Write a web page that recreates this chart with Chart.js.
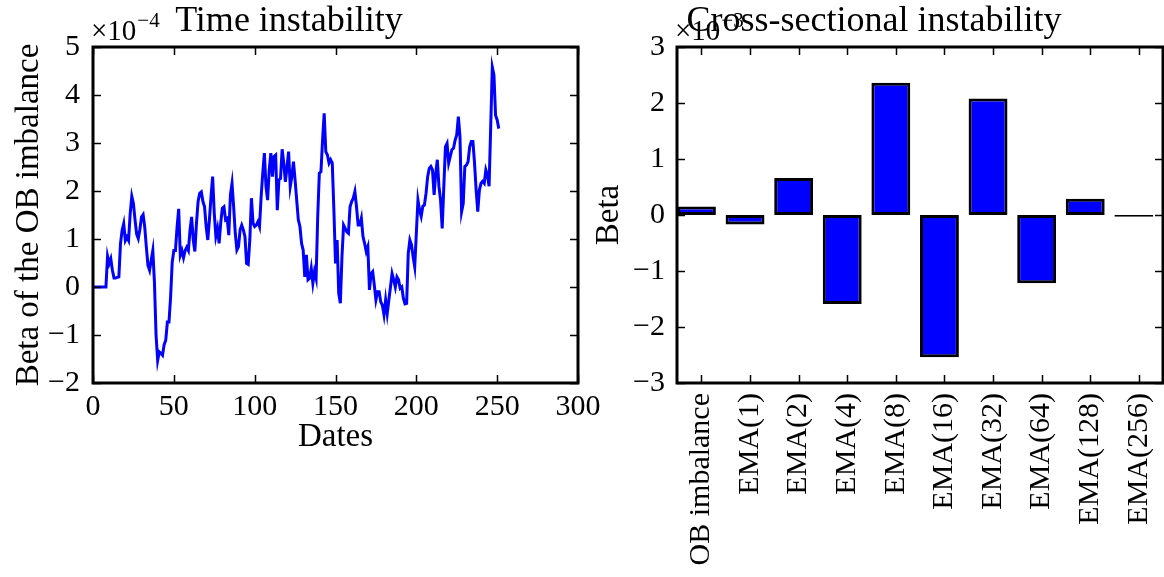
<!DOCTYPE html>
<html>
<head>
<meta charset="utf-8">
<script src="https://cdn.jsdelivr.net/npm/chart.js@4"></script>
<style>
  html, body { margin: 0; padding: 0; background: #fff; overflow: hidden; }
  #wrap { position: relative; width: 1164px; height: 577px; }
  #left { position: absolute; left: 0; top: 0; }
  #right { position: absolute; left: 585px; top: 0; }
</style>
</head>
<body>
<div id="wrap">
  <canvas id="left" width="600" height="577"></canvas>
  <canvas id="right" width="579" height="577"></canvas>
</div>
<script>
// === Data (left values in units of 1e-4, right in units of 1e-3) ===
const beta = [
  0, 0, 0, 0, 0, 0, 0, 0, 0, 0.64,
  0.49, 0.59, 0.35, 0.19, 0.19, 0.20, 0.21, 0.90, 1.18, 1.32,
  0.97, 1.04, 0.97, 1.53, 1.89, 1.74, 1.40, 1.10, 1.01, 1.20,
  1.46, 1.51, 1.25, 0.83, 0.45, 0.35, 0.56, 0.76, 0.10, -1.00,
  -1.53, -1.35, -1.38, -1.42, -1.20, -1.11, -0.73, -0.73, -0.21, 0.52,
  0.76, 0.76, 1.25, 1.63, 0.66, 0.76, 0.61, 0.76, 0.83, 0.76,
  1.18, 1.46, 0.98, 0.74, 1.33, 1.78, 1.95, 1.98, 1.78, 1.67,
  1.26, 0.98, 1.40, 1.88, 2.30, 1.54, 1.06, 1.22, 0.91, 1.33,
  1.64, 1.67, 1.40, 1.43, 1.08, 1.92, 2.16, 1.67, 1.12, 0.77,
  0.84, 1.19, 1.29, 1.19, 1.05, 0.49, 0.47, 0.98, 1.85, 1.33,
  1.26, 1.29, 1.36, 1.26, 1.88, 2.37, 2.79, 2.09, 1.81, 2.44,
  2.79, 2.30, 2.72, 2.75, 1.60, 2.23, 2.26, 2.87, 2.58, 2.19,
  2.50, 2.82, 2.09, 2.30, 2.61, 2.23, 1.81, 1.40, 1.26, 0.91,
  0.77, 0.21, 0.67, 0.15, 0.18, 0.39, 0.08, 0.32, 0.18, 1.47,
  2.37, 2.40, 3.06, 3.62, 2.82, 2.75, 2.58, 2.65, 2.58, 1.61,
  0.49, 0.98, -0.13, -0.34, 0.63, 1.29, 1.22, 1.15, 1.12, 1.67,
  1.78, 1.85, 1.99, 1.67, 1.29, 1.29, 1.43, 1.05, 0.91, 0.74,
  0.84, -0.06, 0.28, 0.32, 0.04, -0.27, -0.10, -0.10, -0.31, -0.38,
  -0.58, -0.27, -0.55, -0.27, 0.00, 0.28, 0.15, 0.00, 0.21, 0.15,
  -0.03, 0.00, -0.24, -0.35, -0.34, 0.70, 0.98, 0.88, 0.63, 0.42,
  1.12, 1.81, 1.60, 1.47, 1.68, 1.71, 1.95, 2.30, 2.47, 2.51,
  2.44, 1.92, 2.37, 2.65, 2.09, 1.81, 1.22, 2.09, 2.92, 2.99,
  2.58, 2.72, 2.86, 2.89, 3.06, 3.17, 3.55, 3.13, 1.57, 1.74,
  2.51, 2.54, 2.61, 2.92, 3.03, 3.03, 2.58, 2.02, 1.57, 2.02,
  2.16, 2.20, 2.16, 2.44, 2.33, 2.10, 3.34, 4.58, 4.42, 3.58,
  3.48, 3.30
];
const dateTicks = [0, 50, 100, 150, 200, 250, 300];
const leftYTicks = [-2, -1, 0, 1, 2, 3, 4, 5];

const categories = ["OB imbalance", "EMA(1)", "EMA(2)", "EMA(4)", "EMA(8)",
                    "EMA(16)", "EMA(32)", "EMA(64)", "EMA(128)", "EMA(256)"];
const crossBeta = [0.15, -0.17, 0.66, -1.59, 2.36, -2.54, 2.08, -1.22, 0.29, -0.03];
const rightYTicks = [-3, -2, -1, 0, 1, 2, 3];

Chart.defaults.font.family = "'Liberation Serif', 'Times New Roman', serif";
Chart.defaults.color = "#000";
Chart.defaults.animation = false;

const minus = v => String(v).replace("-", "\u2212");

// inward ticks on all four sides, box frame and the ×10^n offset text
const framePlugin = {
  id: "frame",
  afterDatasetsDraw(chart, args, opts) {
    const { ctx, chartArea: a } = chart;
    const xs = chart.scales.x, ys = chart.scales.y;
    const L = 8;
    ctx.save();
    ctx.strokeStyle = "#000";
    ctx.lineWidth = 1.5;
    ctx.beginPath();
    xs.ticks.forEach(t => {
      const p = Math.round(xs.getPixelForValue(t.value)) + 0.5;
      ctx.moveTo(p, a.bottom); ctx.lineTo(p, a.bottom - L);
      ctx.moveTo(p, a.top); ctx.lineTo(p, a.top + L);
    });
    ys.ticks.forEach(t => {
      const p = Math.round(ys.getPixelForValue(t.value)) + 0.5;
      ctx.moveTo(a.left, p); ctx.lineTo(a.left + L, p);
      ctx.moveTo(a.right, p); ctx.lineTo(a.right - L, p);
    });
    ctx.stroke();
    ctx.lineWidth = 3;
    ctx.strokeRect(a.left, a.top, a.right - a.left, a.bottom - a.top);

    ctx.fillStyle = "#000";
    ctx.textBaseline = "alphabetic";
    ctx.textAlign = "left";
    ctx.font = "29px 'Liberation Serif', serif";
    const base = "\u00d710";
    ctx.fillText(base, a.left - 2, a.top - 7);
    const w = ctx.measureText(base).width;
    ctx.font = "21px 'Liberation Serif', serif";
    ctx.fillText(opts.exp, a.left - 1 + w, a.top - 20);
    ctx.restore();
  }
};

// === Time instability ===
new Chart(document.getElementById("left"), {
  type: "line",
  data: {
    datasets: [{
      data: beta.map((v, i) => ({ x: i, y: v })),
      borderColor: "#0000ff",
      borderWidth: 3,
      pointRadius: 0,
      tension: 0,
      fill: false
    }]
  },
  options: {
    responsive: false,
    layout: { padding: { top: 0, left: 0, right: 22, bottom: 114 } },
    plugins: {
      legend: { display: false },
      tooltip: { enabled: false },
      title: {
        display: true,
        text: "Time instability",
        font: { size: 36, weight: "normal" },
        padding: { top: 0, bottom: 3.8 }
      },
      frame: { exp: "\u22124" }
    },
    scales: {
      x: {
        type: "linear",
        min: 0, max: 300,
        afterBuildTicks: s => { s.ticks = dateTicks.map(v => ({ value: v })); },
        afterFit: s => { s.height = 80; s.paddingLeft = 0; s.paddingRight = 0; },
        grid: { display: false, drawTicks: false },
        border: { display: false },
        ticks: { font: { size: 30 }, padding: 6, maxRotation: 0, callback: v => minus(v) },
        title: { display: true, text: "Dates", font: { size: 33 }, padding: { top: 0, bottom: 6 } }
      },
      y: {
        min: -2, max: 5,
        afterBuildTicks: s => { s.ticks = leftYTicks.map(v => ({ value: v })); },
        afterFit: s => { s.width = 93; },
        grid: { display: false, drawTicks: false },
        border: { display: false },
        ticks: { font: { size: 30 }, padding: 13, callback: v => minus(v) },
        title: { display: true, text: "Beta of the OB imbalance", font: { size: 33 }, padding: { top: 10, bottom: 0 } }
      }
    }
  },
  plugins: [framePlugin]
});

// === Cross-sectional instability ===
new Chart(document.getElementById("right"), {
  type: "bar",
  data: {
    datasets: [{
      data: crossBeta.map((v, i) => ({ x: i + 0.4, y: v })),
      backgroundColor: "#0000ff",
      borderColor: "#000",
      borderWidth: 3,
      borderSkipped: false,
      categoryPercentage: 1,
      barPercentage: 0.8
    }]
  },
  options: {
    responsive: false,
    layout: { padding: { top: 0, left: 0, right: 1, bottom: 0 } },
    plugins: {
      legend: { display: false },
      tooltip: { enabled: false },
      title: {
        display: true,
        text: "Cross-sectional instability",
        font: { size: 36, weight: "normal" },
        padding: { top: 0, bottom: 3.8 }
      },
      frame: { exp: "\u22123" }
    },
    scales: {
      x: {
        type: "linear",
        offset: false,
        min: 0, max: 10,
        afterBuildTicks: s => { s.ticks = categories.map((c, i) => ({ value: i + 0.5 })); },
        afterFit: s => { s.height = 194; s.paddingLeft = 0; s.paddingRight = 0; },
        grid: { display: false, drawTicks: false },
        border: { display: false },
        ticks: {
          font: { size: 30 }, padding: 10, autoSkip: false,
          minRotation: 90, maxRotation: 90,
          callback: v => categories[Math.round(v - 0.5)]
        }
      },
      y: {
        min: -3, max: 3,
        afterBuildTicks: s => { s.ticks = rightYTicks.map(v => ({ value: v })); },
        afterFit: s => { s.width = 92; },
        grid: { display: false, drawTicks: false },
        border: { display: false },
        ticks: { font: { size: 30 }, padding: 12, callback: v => minus(v) },
        title: { display: true, text: "Beta", font: { size: 33 }, padding: { top: 5, bottom: 0 } }
      }
    }
  },
  plugins: [framePlugin]
});
</script>
</body>
</html>
